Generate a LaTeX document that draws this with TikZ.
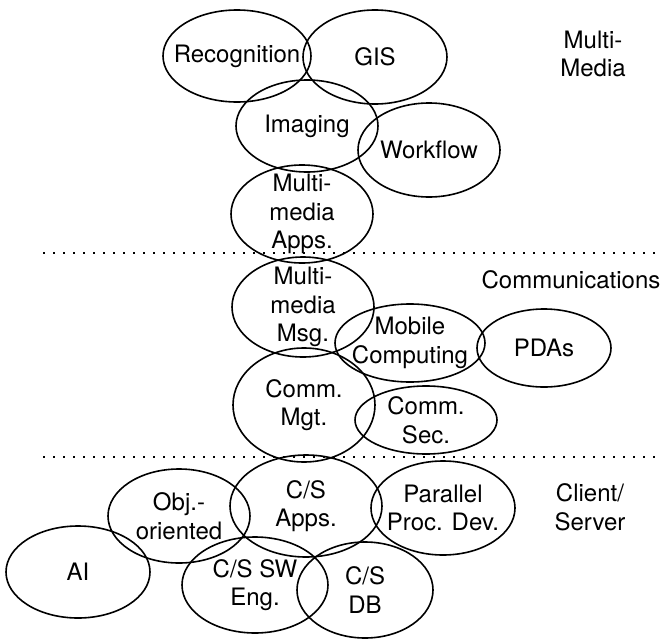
\documentclass[tikz,border=0pt]{standalone}
\usepackage{fontspec}
\setmainfont{TeX Gyre Heros}
\usetikzlibrary{shapes.geometric}
\begin{document}
\begin{tikzpicture}[x=0.75pt,y=-0.75pt,
  txt/.style={font=\fontsize{18}{21.4}\selectfont, align=center, inner sep=0pt},
  oval/.style n args={3}{ellipse, draw, line width=1.2pt, inner sep=0pt,
     minimum width=#1*1.5pt, minimum height=#2*1.5pt,
     label={[txt]center:#3}},
  dotline/.style={line width=1.4pt, dash pattern=on 1.2pt off 6.3pt}]
\useasboundingbox (0,0) rectangle (664,639);
% Multi-Media
\node[oval={74}{46}{Recognition}] (rec) at (237,56) {};
\node[oval={72}{47}{GIS}] (gis) at (375,57) {};
\node[oval={71}{46}{Imaging}] (img) at (307,126) {};
\node[oval={71}{47}{Workflow}] (wf) at (429,150) {};
\node[oval={71}{49}{Multi-\\media\\Apps.}] (mma) at (302,214) {};
% Communications
\node[oval={71}{50}{Multi-\\media\\Msg.}] (mmm) at (303,307) {};
\node[oval={75}{39}{Mobile\\Computing}] (mob) at (410,343) {};
\node[oval={67}{39}{PDAs}] (pda) at (544,348) {};
\node[oval={71}{57}{Comm.\\Mgt.}] (cmg) at (304,405) {};
\node[oval={71}{34}{Comm.\\Sec.}] (csec) at (426,420) {};
% Client/Server
\node[oval={76}{51}{C/S\\Apps.}] (csa) at (306,506) {};
\node[oval={72}{47}{Parallel\\Proc. Dev.}] (ppd) at (443,508) {};
\node[oval={71}{47}{Obj.-\\oriented}] (obj) at (179,516) {};
\node[oval={72}{46}{AI}] (ai) at (78,572) {};
\node[oval={73}{48}{C/S SW\\Eng.}] (csw) at (255,585) {};
\node[oval={68}{48}{C/S\\DB}] (cdb) at (365,590) {};
% section labels
\node[txt] (lmm) at (593,54) {Multi-\\Media};
\node[txt] (lcom) at (571,280) {Communications};
\node[txt] (lcs) at (590,507) {Client/\\Server};
% dotted separators
\coordinate (d1a) at (43,253);
\coordinate (d1b) at (658,253);
\coordinate (d2a) at (43,457);
\coordinate (d2b) at (658,457);
\draw[dotline] (d1a) -- (d1b);
\draw[dotline] (d2a) -- (d2b);
\end{tikzpicture}
\end{document}
